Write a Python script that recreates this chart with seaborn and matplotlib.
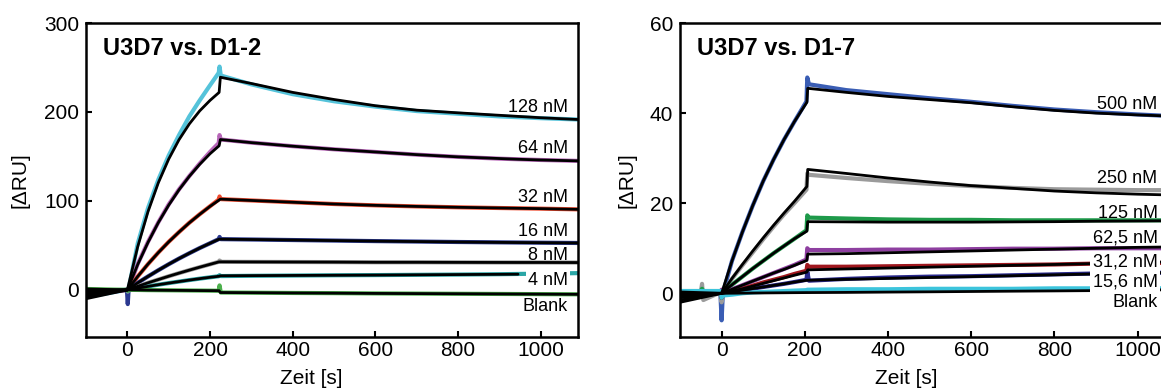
import matplotlib
matplotlib.use("Agg")
import matplotlib.pyplot as plt
import numpy as np
import pandas as pd
import seaborn as sns

# ---------------- U3D7 vs. D1-2 ----------------
conc_left = ["128 nM", "64 nM", "32 nM", "16 nM", "8 nM", "4 nM", "Blank"]
colors_left = ["#55C3DA", "#B766B8", "#EE4A2E", "#2B3990", "#9A9A9A", "#2AA6A6", "#4CB04C"]

# measured sensorgrams (time grid in s)
t_data_left = [-100, -1, 1, 3, 25, 50, 75, 100, 125, 150, 175, 200, 221, 223, 226,
               300, 400, 500, 600, 700, 800, 900, 1000, 1090]
data_128 = [-8, 0, -4, 1, 52, 92, 124, 151, 174, 195, 213, 230, 244, 251, 241,
            231, 220, 212, 206, 201, 198, 195, 193, 191.5]
data_64 = [-6, 0, -3, 1, 29, 54, 76, 96, 113, 128, 142, 155, 165, 174, 169,
           165.5, 161.5, 158, 155, 152, 149.5, 147.5, 146, 145]
data_32 = [-5, 0, -2, 0.5, 15, 29, 42, 54, 65, 75.5, 85, 94, 101.5, 105, 102,
           100.5, 98.5, 96.5, 95, 93.8, 92.8, 92, 91.3, 90.5]
data_16 = [-4, 0, -16, 0, 7.8, 15.1, 22.1, 28.8, 35.2, 41.2, 47, 52.4, 57, 59.5, 57,
           56.6, 56, 55.4, 54.8, 54.3, 53.8, 53.4, 53, 52.7]
data_8 = [-3, 0, -2, 0, 4, 7.9, 11.6, 15.3, 18.8, 22.2, 25.5, 28.7, 31.5, 33, 31.5,
          31.4, 31.3, 31.2, 31, 31, 30.9, 30.8, 30.8, 30.7]
data_4 = [-1, 0, -1, 0, 2.0, 3.9, 5.8, 7.6, 9.3, 11, 12.6, 14.1, 15.3, 16.5, 15.5,
          15.8, 16.1, 16.4, 16.6, 16.9, 17.2, 17.6, 18.2, 18.8]
data_blank_l = [1, 0, -1, 0, -0.1, -0.3, -0.4, -0.5, -0.6, -0.7, -0.8, -0.9, -1, 5, -3,
                -3.2, -3.5, -3.7, -4, -4.2, -4.4, -4.6, -4.8, -5]

# 1:1 kinetic fits (4 nM fit was only evaluated up to 945 s)
t_fit_left = [-100, 0, 25, 50, 75, 100, 125, 150, 175, 200, 222, 225,
              300, 400, 500, 600, 700, 800, 945, 1000, 1090]
fit_128 = [-10, 0, 48.4, 88, 120.5, 147, 168.8, 186.6, 201.2, 213, 222, 239,
           232, 222, 214, 207, 202, 199, 195, 193.5, 191.5]
fit_64 = [-8, 0, 28.4, 53.4, 75.7, 95.2, 112.5, 127.7, 141.1, 153, 162, 169,
          165.5, 161.5, 158, 155, 152, 149.5, 146.8, 146, 145]
fit_32 = [-6, 0, 15, 29, 41.9, 53.9, 65, 75.4, 84.9, 93.9, 101, 102,
          100.5, 98.5, 96.5, 95, 93.8, 92.8, 91.7, 91.3, 90.5]
fit_16 = [-4, 0, 7.8, 15.1, 22.1, 28.8, 35.2, 41.2, 47, 52.4, 57, 57,
          56.6, 56, 55.4, 54.8, 54.3, 53.8, 53.2, 53, 52.7]
fit_8 = [-2, 0, 4, 7.9, 11.6, 15.3, 18.8, 22.2, 25.5, 28.7, 31.5, 31.5,
         31.4, 31.3, 31.2, 31, 31, 30.9, 30.8, 30.8, 30.7]
fit_4 = [-0.5, 0, 2, 3.9, 5.8, 7.6, 9.3, 11, 12.6, 14.1, 15.3, 15.8,
         16, 16.2, 16.4, 16.6, 16.9, 17.2, 17.6, np.nan, np.nan]
fit_blank_l = [1, 0, -0.1, -0.3, -0.4, -0.5, -0.6, -0.7, -0.8, -0.9, -1, -3,
               -3.2, -3.5, -3.7, -4, -4.2, -4.4, -4.7, -4.8, -5]

# label anchor heights (RU)
label_y_left = [200.5, 154, 99, 60, 33.7, 5.6, -24]

# ---------------- U3D7 vs. D1-7 ----------------
conc_right = ["500 nM", "250 nM", "125 nM", "62,5 nM", "31,2 nM", "15,6 nM", "Blank"]
colors_right = ["#3A5DB4", "#9B9B9B", "#1E9A4A", "#8E3FA0", "#A0171E", "#28288C", "#3CC4DC"]

t_data_right = [-100, -50, -47, -44, -3, 0, 3, 25, 50, 75, 100, 125, 150, 175, 204, 206, 210,
                300, 400, 500, 600, 700, 800, 900, 1000, 1090]
data_500 = [0.3, 0.3, 0.3, 0.2, 0.2, -6, 0, 7.2, 13.6, 19.5, 24.9, 29.7, 34.1, 38.1, 42.6, 47.9, 46.4,
            45.1, 44.2, 43.3, 42.5, 41.6, 40.8, 40.2, 39.7, 39.3]
data_250 = [0.2, 0.2, 2.1, -1.5, 0.2, -2, 0, 3.2, 6.2, 9.1, 12.0, 14.8, 17.5, 20.0, 23.0, 26.6, 26.3,
            25.6, 24.9, 24.3, 23.8, 23.4, 23.1, 23.0, 22.9, 22.9]
data_125 = [0.5, 0.5, 1.0, 0.5, 0.5, -1, 0, 1.9, 3.7, 5.5, 7.2, 8.9, 10.5, 12.1, 14.0, 17.3, 16.8,
            16.6, 16.4, 16.3, 16.3, 16.2, 16.2, 16.2, 16.2, 16.2]
data_62 = [0.3, 0.3, 0.5, 0.3, 0.3, 0.8, 0, 0.9, 1.8, 2.7, 3.6, 4.5, 5.4, 6.3, 7.5, 10.0, 9.6,
           9.6, 9.7, 9.7, 9.8, 9.9, 9.9, 10.0, 10.0, 10.0]
data_31 = [0.2, 0.2, 0.2, 0.2, 0.2, -1, -0.5, 0.4, 1.0, 1.7, 2.4, 3.0, 3.6, 4.3, 5.0, 6.3, 5.9,
           5.9, 6.0, 6.1, 6.2, 6.3, 6.4, 6.6, 6.7, 6.8]
data_15 = [0.3, 0.3, 0.3, 0.3, 0.3, -0.5, 0, 0.35, 0.7, 1.05, 1.4, 1.75, 2.1, 2.5, 3.0, 4.8, 2.8,
           3.2, 3.5, 3.7, 3.8, 4.0, 4.2, 4.4, 4.5, 4.6]
data_blank_r = [0.5, 0.5, 0.5, 0.5, 0.5, -1, -0.5, -0.3, 0.0, 0.2, 0.3, 0.4, 0.5, 0.6, 0.7, 0.8, 0.8,
                0.9, 0.9, 1.0, 1.0, 1.0, 1.1, 1.1, 1.1, 1.1]

t_fit_right = [-100, 0, 25, 50, 75, 100, 125, 150, 175, 205, 207,
               300, 400, 500, 600, 700, 800, 900, 1000, 1090]
fit_500 = [-2, 0, 7.2, 13.6, 19.5, 24.9, 29.7, 34.1, 38.1, 42.4, 45.5,
           44.6, 43.7, 43.0, 42.3, 41.4, 40.6, 40.0, 39.6, 39.3]
fit_250 = [-1.5, 0, 3.3, 6.4, 9.4, 12.3, 15.1, 17.8, 20.4, 23.7, 27.5,
           26.6, 25.6, 24.7, 23.9, 23.3, 22.7, 22.3, 22.0, 21.8]
fit_125 = [-1, 0, 1.9, 3.7, 5.5, 7.2, 8.9, 10.5, 12.1, 13.8, 15.9,
           15.85, 15.8, 15.8, 15.8, 15.85, 15.9, 16.0, 16.05, 16.1]
fit_62 = [-0.6, 0, 0.9, 1.8, 2.7, 3.6, 4.5, 5.3, 6.2, 7.3, 8.7,
          8.8, 9.0, 9.2, 9.4, 9.6, 9.8, 10.0, 10.2, 10.3]
fit_31 = [-0.3, 0, 0.5, 1.0, 1.6, 2.2, 2.8, 3.4, 4.0, 4.7, 5.2,
          5.4, 5.6, 5.8, 6.0, 6.2, 6.4, 6.6, 6.8, 7.0]
fit_15 = [0, 0, 0.35, 0.7, 1.05, 1.4, 1.75, 2.1, 2.5, 2.9, 2.9,
          3.1, 3.3, 3.5, 3.7, 3.9, 4.1, 4.3, 4.5, 4.6]
fit_blank_r = [0.3, 0, 0.02, 0.04, 0.06, 0.08, 0.1, 0.12, 0.14, 0.16, 0.16,
               0.2, 0.27, 0.33, 0.4, 0.47, 0.53, 0.6, 0.7, 0.8]

label_y_right = [40.9, 24.5, 16.8, 11.2, 5.9, 1.5, -3.0]
boxed_right = ["31,2 nM", "15,6 nM", "Blank"]

x_ticks = [0, 200, 400, 600, 800, 1000]


def long_frame(t, series, names):
    rows = []
    for name, vals in zip(names, series):
        rows.append(pd.DataFrame({"Zeit": t, "RU": vals, "Probe": name}))
    return pd.concat(rows, ignore_index=True).dropna()


sns.set_theme(style="ticks")
plt.rcParams["font.family"] = ["Liberation Sans", "DejaVu Sans"]
plt.rcParams.update({"text.color": "black", "axes.labelcolor": "black",
                     "xtick.color": "black", "ytick.color": "black",
                     "axes.edgecolor": "black"})

fig = plt.figure(figsize=(11.61, 3.92), dpi=100)
W, H = 1161, 392
ax1 = fig.add_axes([86 / W, 1 - 337 / H, 492 / W, 314 / H])
ax2 = fig.add_axes([680 / W, 1 - 337 / H, 495 / W, 314 / H])


def draw_panel(ax, title, names, colors, t_data, data, t_fit, fits, ylim, yticks,
               label_y, label_x, boxed, ylabel_x):
    d = long_frame(t_data, data, names)
    f = long_frame(t_fit, fits, names)
    sns.lineplot(data=d, x="Zeit", y="RU", hue="Probe", palette=dict(zip(names, colors)),
                 estimator=None, sort=False, legend=False, lw=3.0, ax=ax, zorder=1)
    sns.lineplot(data=f, x="Zeit", y="RU", units="Probe", color="black",
                 estimator=None, sort=False, legend=False, lw=2.0, ax=ax, zorder=2)
    ax.set_xlim(-100, 1090)
    ax.set_ylim(*ylim)
    ax.set_xticks(x_ticks)
    ax.set_yticks(yticks)
    ax.tick_params(direction="in", length=4.5, width=1.5, labelsize=15,
                   top=False, right=False, colors="black")
    ax.tick_params(axis="x", pad=3)
    ax.tick_params(axis="y", pad=5)
    for sp in ax.spines.values():
        sp.set_visible(True)
        sp.set_linewidth(1.8)
        sp.set_color("black")
    ax.set_xlabel("Zeit [s]", fontsize=15, color="black")
    ax.set_ylabel("[\u0394RU]", fontsize=15, color="black")
    ax.xaxis.set_label_coords(0.457, -0.102)
    ax.yaxis.set_label_coords(ylabel_x, 0.5)
    ax.text(0.035, 0.898, title, transform=ax.transAxes, fontsize=17,
            fontweight="bold", ha="left", va="baseline", color="black")
    for name, y in zip(names, label_y):
        kw = {}
        if name in boxed:
            kw["bbox"] = dict(facecolor="white", edgecolor="none", pad=1.5)
        ax.text(label_x, y, name, ha="right", va="baseline", fontsize=13,
                color="black", zorder=5, **kw)


draw_panel(ax1, "U3D7 vs. D1-2", conc_left, colors_left, t_data_left,
           [data_128, data_64, data_32, data_16, data_8, data_4, data_blank_l],
           t_fit_left, [fit_128, fit_64, fit_32, fit_16, fit_8, fit_4, fit_blank_l],
           (-53, 300), [0, 100, 200, 300], label_y_left, 1066, ["4 nM"], -0.115)

draw_panel(ax2, "U3D7 vs. D1-7", conc_right, colors_right, t_data_right,
           [data_500, data_250, data_125, data_62, data_31, data_15, data_blank_r],
           t_fit_right, [fit_500, fit_250, fit_125, fit_62, fit_31, fit_15, fit_blank_r],
           (-9.7, 60), [0, 20, 40, 60], label_y_right, 1048, boxed_right, -0.088)

fig.savefig("out.png", dpi=100)
